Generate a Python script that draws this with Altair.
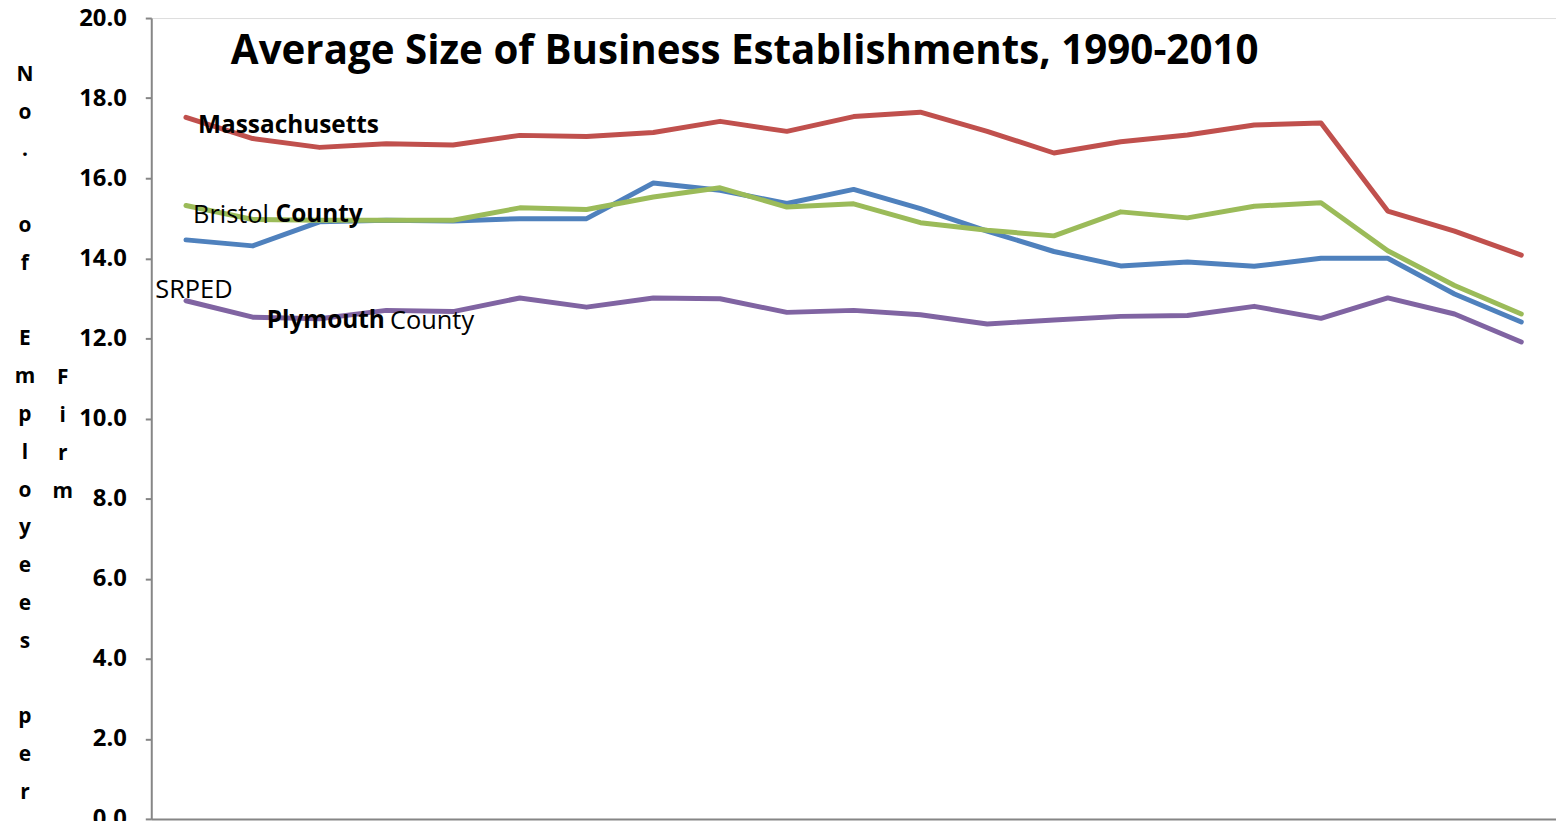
import altair as alt
import pandas as pd

years = list(range(1990, 2011))
massachusetts = [17.52, 16.99, 16.77, 16.86, 16.83, 17.07, 17.04, 17.14, 17.42, 17.17, 17.54,
                 17.65, 17.17, 16.63, 16.91, 17.08, 17.33, 17.38, 15.18, 14.68, 14.08]
srped = [14.46, 14.31, 14.91, 14.95, 14.93, 14.99, 14.99, 15.88, 15.70, 15.37, 15.72,
         15.24, 14.68, 14.17, 13.81, 13.91, 13.80, 14.00, 14.00, 13.11, 12.41]
bristol = [15.32, 14.97, 14.95, 14.95, 14.95, 15.26, 15.22, 15.53, 15.76, 15.28, 15.36,
           14.89, 14.70, 14.56, 15.16, 15.01, 15.30, 15.39, 14.19, 13.32, 12.61]
plymouth = [12.94, 12.53, 12.49, 12.70, 12.67, 13.01, 12.78, 13.01, 12.99, 12.65, 12.70,
            12.59, 12.36, 12.46, 12.55, 12.57, 12.80, 12.50, 13.01, 12.61, 11.91]

series_names = ["Massachusetts", "SRPED", "Bristol County", "Plymouth County"]
series_colors = ["#C0504D", "#4F81BD", "#9BBB59", "#8064A2"]
y_ticks = [0, 2, 4, 6, 8, 10, 12, 14, 16, 18, 20]

title_text = "Average Size of Business Establishments, 1990-2010"
y_title_col1 = "No. of Employees per"
y_title_col2 = "Firm"

FONT = "Open Sans"
ROW = 38.0

rows = []
for name, vals in zip(series_names, [massachusetts, srped, bristol, plymouth]):
    for yr, v in zip(years, vals):
        rows.append({"Year": str(yr), "Series": name, "Value": v})
df = pd.DataFrame(rows)

lines = alt.Chart(df).mark_line(strokeWidth=5, strokeJoin="round", strokeCap="round").encode(
    x=alt.X("Year:O", scale=alt.Scale(type="point", padding=0.52),
            axis=alt.Axis(labels=False, ticks=False, title=None, grid=False,
                          domainColor="#868686", domainWidth=2)),
    y=alt.Y("Value:Q", scale=alt.Scale(domain=[0, 20], nice=False),
            axis=alt.Axis(values=y_ticks, format=".1f", title=None, grid=False,
                          labelFont=FONT, labelFontWeight="bold", labelFontSize=24,
                          labelColor="black", labelPadding=19,
                          tickColor="#868686", tickSize=6, tickWidth=2,
                          domainColor="#868686", domainWidth=2)),
    color=alt.Color("Series:N", scale=alt.Scale(domain=series_names, range=series_colors),
                    legend=None),
)

one = alt.Data(values=[{}])


def label(text, x, y, size, weight="normal", align="left", multiline=False):
    kw = dict(font=FONT, fontSize=size, fontWeight=weight, align=align,
              baseline="middle", color="black")
    if multiline:
        kw.update(lineBreak="\n", lineHeight=ROW)
    return alt.Chart(one).mark_text(**kw).encode(
        x=alt.value(x), y=alt.value(y), text=alt.value(text))


def stacked(text, x, y0):
    # each character on its own row; spaces leave an empty row
    layers = []
    row = 0
    for word in text.split(" "):
        layers.append(label("\n".join(list(word)), x, y0 + row * ROW, 21, "bold",
                            "center", True))
        row += len(word) + 1
    return layers


texts = [
    label(title_text, 80, 34, 40.5, "bold"),
    label(series_names[0], 47, 109, 24.5, "bold"),
    label("Bristol", 42, 198, 25.5),
    label("County", 125, 198, 24.5, "bold"),
    label(series_names[1], 4, 273, 25.5),
    label("Plymouth", 116, 305, 24.5, "bold"),
    label("County", 240, 305, 25.5),
]
texts += stacked(y_title_col1, -127, 57)
texts += stacked(y_title_col2, -89, 362)

chart = alt.layer(lines, *texts).properties(
    width=1412, height=805,
    autosize=alt.AutoSizeParams(type="none"),
    padding={"left": 144, "top": 8, "right": 0, "bottom": 0},
).configure_view(stroke=None).configure(background="white")

chart.save("out.html", embed_options={"renderer": "svg", "actions": False})
